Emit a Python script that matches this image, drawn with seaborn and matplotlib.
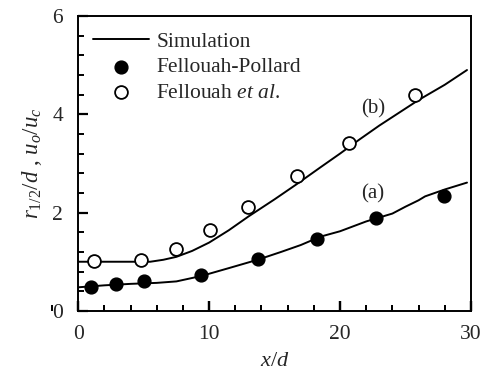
import matplotlib
matplotlib.use("Agg")
import matplotlib.pyplot as plt
import seaborn as sns
import pandas as pd
from matplotlib.ticker import MultipleLocator

# Simulation curves
sim_a_x = [0, 2, 4, 6, 7.5, 9.4, 11.5, 13.7, 15.5, 17, 18.5, 20, 22, 24, 25, 26, 26.5, 28, 29.7]
sim_a_y = [0.48, 0.52, 0.55, 0.57, 0.60, 0.71, 0.87, 1.04, 1.20, 1.34, 1.51, 1.62, 1.82, 1.98, 2.12, 2.25, 2.33, 2.47, 2.61]
sim_b_x = [0, 2, 4, 5.5, 6.5, 7.5, 8.7, 10, 11.5, 13, 15, 16.7, 18.5, 20, 21.5, 23, 24.5, 26, 28, 29.7]
sim_b_y = [1.0, 1.0, 1.0, 1.0, 1.04, 1.10, 1.22, 1.39, 1.64, 1.92, 2.27, 2.58, 2.92, 3.20, 3.49, 3.77, 4.03, 4.29, 4.60, 4.90]

# Fellouah-Pollard (filled)
fp_x = [0.99, 2.92, 5.06, 9.38, 13.73, 18.23, 22.78, 27.97]
fp_y = [0.49, 0.54, 0.61, 0.73, 1.05, 1.47, 1.88, 2.34]

# Fellouah et al. (open)
fe_x = [1.22, 4.78, 7.45, 10.09, 12.94, 16.70, 20.70, 25.73]
fe_y = [1.02, 1.04, 1.25, 1.65, 2.12, 2.75, 3.42, 4.39]

x_ticks = [0, 10, 20, 30]
y_ticks = [0, 2, 4, 6]

sns.set_theme(style="ticks")
plt.rcParams.update({
    'font.family': ['Liberation Serif', 'DejaVu Serif'],
    'mathtext.fontset': 'custom',
    'mathtext.it': 'Liberation Serif:italic',
    'mathtext.rm': 'Liberation Serif',
    'axes.axisbelow': False,
})

fig, ax = plt.subplots(figsize=(4.83, 3.71), dpi=100)
fig.subplots_adjust(left=0.162, right=0.975, top=0.957, bottom=0.162)

dfa = pd.DataFrame({"x": sim_a_x, "y": sim_a_y})
dfb = pd.DataFrame({"x": sim_b_x, "y": sim_b_y})
sns.lineplot(data=dfa, x="x", y="y", ax=ax, color="black", lw=1.4, label="Simulation", sort=False)
sns.lineplot(data=dfb, x="x", y="y", ax=ax, color="black", lw=1.4, sort=False)

dfp = pd.DataFrame({"x": fp_x, "y": fp_y})
dfe = pd.DataFrame({"x": fe_x, "y": fe_y})
sns.scatterplot(data=dfp, x="x", y="y", ax=ax, color="black", s=85, edgecolor="black",
                linewidth=1.0, label="Fellouah-Pollard", zorder=3)
sns.scatterplot(data=dfe, x="x", y="y", ax=ax, facecolor="white", s=85, edgecolor="black",
                linewidth=1.3, label="Fellouah $\\mathit{et\\ al}$.", zorder=3)

ax.set_xlim(0, 30)
ax.set_ylim(0, 6)
ax.set_xticks(x_ticks)
ax.set_yticks(y_ticks)
ax.xaxis.set_minor_locator(MultipleLocator(2))
ax.yaxis.set_minor_locator(MultipleLocator(0.4))
ax.tick_params(which='both', bottom=True, left=True, top=False, right=False,
               direction='in', color='black')
ax.tick_params(which='major', length=7, width=1.6, labelsize=15.5)
ax.tick_params(which='minor', length=4, width=1.4)
ax.tick_params(axis='x', which='major', pad=10)
ax.tick_params(axis='y', which='major', pad=11)
ax.xaxis.set_zorder(5)
ax.yaxis.set_zorder(5)
for s in ax.spines.values():
    s.set_linewidth(1.4)
    s.set_color('black')

# reinforce bottom tick marks at the locator positions
xform = ax.get_xaxis_transform()
ax.vlines(ax.xaxis.get_majorticklocs(), 0, 0.033, transform=xform,
          color='black', lw=1.6, zorder=5, clip_on=False)
ax.vlines(ax.xaxis.get_minorticklocs(), 0, 0.019, transform=xform,
          color='black', lw=1.4, zorder=5, clip_on=False)

ax.set_xlabel("$x/d$", fontsize=16, labelpad=6)
ax.set_ylabel("$r_{1/2}/d$ , $u_o/u_c$", fontsize=16.5, labelpad=6)

ax.text(22.5, 4.12, "(b)", fontsize=15, ha='center', va='center')
ax.text(22.5, 2.39, "(a)", fontsize=15, ha='center', va='center')

leg = ax.legend(loc='upper left', frameon=False, fontsize=15.5, handlelength=2.6,
                handletextpad=0.35, labelspacing=0.25, borderaxespad=0.0,
                bbox_to_anchor=(0.015, 0.975))

fig.savefig("out.png", dpi=100)
